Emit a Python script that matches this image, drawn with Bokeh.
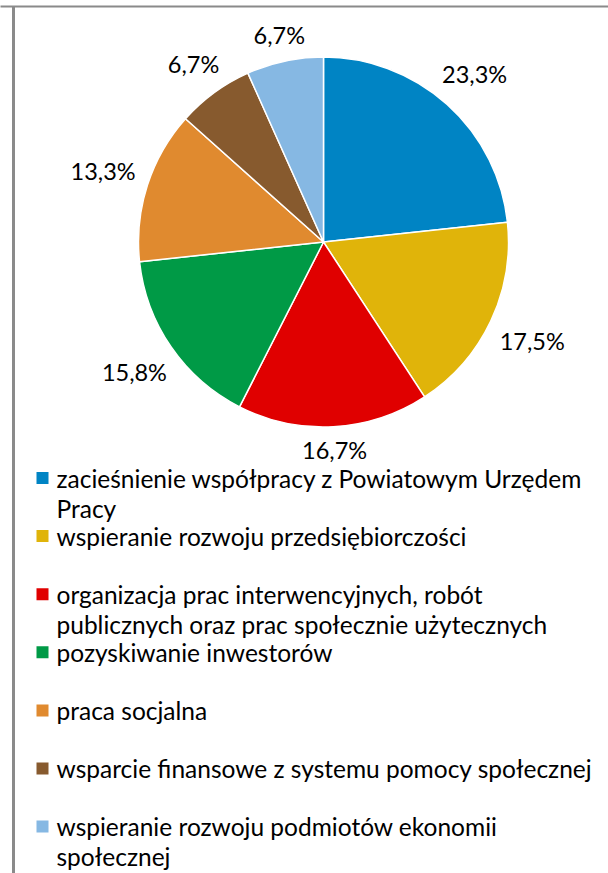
import math
from bokeh.plotting import figure
from bokeh.models import Range1d, ColumnDataSource
from bokeh.embed import file_html
from bokeh.resources import INLINE
from bokeh.core.properties import value

# ---- data ----
categories = [
    "zacieśnienie współpracy z Powiatowym Urzędem\nPracy",
    "wspieranie rozwoju przedsiębiorczości",
    "organizacja prac interwencyjnych, robót\npublicznych oraz prac społecznie użytecznych",
    "pozyskiwanie inwestorów",
    "praca socjalna",
    "wsparcie finansowe z systemu pomocy społecznej",
    "wspieranie rozwoju podmiotów ekonomii\nspołecznej",
]
values = [23.3, 17.5, 16.7, 15.8, 13.3, 6.7, 6.7]
colors = ["#0084C4", "#E0B40A", "#E00000", "#009A46", "#E08A2F", "#875A2E", "#86B8E3"]

# ---- layout (picture pixel coordinates, origin top-left) ----
W, H = 608, 873
def px(X):
    return X
def py(Y):
    return H - Y

CX, CY, R = 323, 241.5, 185
FONT = value("Lato")
LABEL_FS = "23.5px"
LEGEND_FS = "24.5px"

p = figure(width=W, height=H, x_range=Range1d(0, W), y_range=Range1d(0, H),
           output_backend="svg", toolbar_location=None, min_border=0,
           x_axis_type=None, y_axis_type=None)
p.grid.visible = False
p.outline_line_color = None
p.background_fill_color = "white"
p.border_fill_color = "white"

# frame lines of the document
p.segment(x0=[px(13)], y0=[py(6)], x1=[px(13)], y1=[py(890)], line_color="#8a8a8a", line_width=3)
p.segment(x0=[px(-10)], y0=[py(6)], x1=[px(620)], y1=[py(6)], line_color="#8a8a8a", line_width=2)

# ---- pie ----
total = float(sum(values))
starts, ends, mids = [], [], []
cum = 0.0
for v in values:
    s = math.pi / 2 - 2 * math.pi * cum / total
    e = math.pi / 2 - 2 * math.pi * (cum + v) / total
    starts.append(s)
    ends.append(e)
    mids.append((s + e) / 2)
    cum += v

src = ColumnDataSource(dict(start=starts, end=ends, color=colors))
p.wedge(x=px(CX), y=py(CY), radius=R, start_angle="start", end_angle="end",
        direction="clock", fill_color="color", line_color="white", line_width=1.5, source=src)

# data labels outside the pie
labels = [f"{v:.1f}".replace(".", ",") + "%" for v in values]
lx, ly = [], []
gap, hh = 13, 8.5
for lab, m in zip(labels, mids):
    hw = 6.5 * len(lab)
    d = R + gap + hw * abs(math.cos(m)) + hh * abs(math.sin(m))
    lx.append(px(CX) + d * math.cos(m))
    ly.append(py(CY) + d * math.sin(m))
p.text(x=lx, y=ly, text=labels, text_align="center", text_baseline="middle",
       text_font=FONT, text_font_size=LABEL_FS, text_color="black")

# ---- legend ----
row0, pitch, line_pitch = 477.5, 58.1, 30
mx, tx, msz = 42, 56, 12
rx, ry, tcol_x, tcol_y, ttext = [], [], [], [], []
for i, cat in enumerate(categories):
    yrow = row0 + i * pitch
    rx.append(px(mx))
    ry.append(py(yrow))
    for j, line in enumerate(cat.split("\n")):
        tcol_x.append(px(tx))
        tcol_y.append(py(yrow + j * line_pitch))
        ttext.append(line)
p.rect(x=rx, y=ry, width=msz, height=msz, fill_color=colors, line_color=None)
p.text(x=tcol_x, y=tcol_y, text=ttext, text_align="left", text_baseline="middle",
       text_font=FONT, text_font_size=LEGEND_FS, text_color="black")

open("out.html", "w").write(file_html(p, INLINE))
